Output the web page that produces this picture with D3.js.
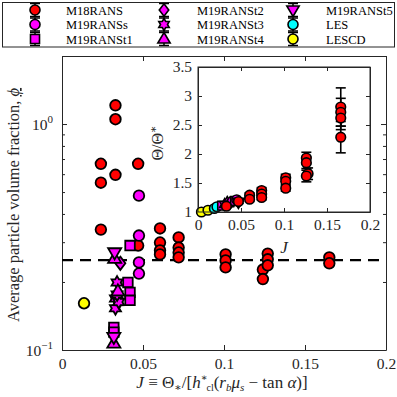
<!DOCTYPE html>
<html><head><meta charset="utf-8">
<script src="https://cdn.jsdelivr.net/npm/d3@7"></script>
<style>
html,body{margin:0;padding:0;background:#fff;}
svg{display:block;font-family:"Liberation Serif","DejaVu Serif",serif;}
</style></head>
<body><svg id="c" width="397" height="397"></svg>
<script>
// ---------- data ----------
const seriesNames = ["M18RANS","M19RANSs","M19RANSt1","M19RANSt2","M19RANSt3","M19RANSt4","M19RANSt5","LES","LESCD"];
const seriesShapes = ["circle","circle","square","diamond","hexagram","triUp","triDown","circle","circle"];
const seriesColors = ["#ff0000","#ff00ff","#ff00ff","#ff00ff","#ff00ff","#ff00ff","#ff00ff","#00ffff","#ffff00"];

// main panel: J and average volume fraction per series
const m18J   = [0.024,0.024,0.024,0.033,0.033,0.033,0.047,0.047,0.0605,0.0605,0.0605,0.0605,0.072,0.072,0.072,0.072,0.101,0.101,0.101,0.124,0.124,0.127,0.127,0.127,0.165,0.165];
const m18Phi = [0.667,0.55,0.341,1.21,1.05,0.596,0.667,0.29,0.345,0.299,0.276,0.265,0.315,0.284,0.270,0.257,0.265,0.249,0.232,0.227,0.206,0.267,0.252,0.237,0.257,0.242];
const sJ   = [0.0475,0.0475,0.0475,0.0475];
const sPhi = [0.482,0.321,0.244,0.218];
const t1J   = [0.042,0.0407,0.042,0.042,0.032,0.032];
const t1Phi = [0.290,0.199,0.180,0.166,0.126,0.120];
const t2J   = [0.036];
const t2Phi = [0.242];
const t3J   = [0.034,0.033,0.033,0.035,0.034];
const t3Phi = [0.199,0.169,0.153,0.163,0.176];
const t4J   = [0.0325,0.0345,0.032];
const t4Phi = [0.254,0.182,0.107];
const t5J   = [0.0325,0.032];
const t5Phi = [0.270,0.114];
const lesJ = [], lesPhi = [];
const lescdJ = [0.0136], lescdPhi = [0.161];
const dashedPhi = 0.25;

// inset: J, Theta/Theta*, error half-width
const inM18J  = [0.033,0.047,0.060,0.060,0.074,0.074,0.074,0.102,0.102,0.102,0.126,0.126,0.128,0.126,0.166,0.166,0.166,0.166];
const inM18T  = [1.10,1.18,1.29,1.22,1.37,1.31,1.25,1.59,1.53,1.41,1.93,1.85,1.66,1.62,2.81,2.72,2.62,2.29];
const inM18E  = [0.03,0.03,0.04,0.04,0.05,0.04,0.04,0.06,0.05,0.05,0.10,0.10,0.10,0.10,0.33,0.24,0.20,0.27];
const inM19J  = [0.028,0.031,0.034,0.037,0.040,0.043,0.045,0.047];
const inM19T  = [1.11,1.13,1.16,1.15,1.18,1.19,1.21,1.17];
const inM19E  = [0.02,0.02,0.02,0.02,0.03,0.03,0.03,0.02];
const inM19Shape = ["square","hexagram","triUp","diamond","circle","square","circle","triDown"];
const inLesJ = [0.019,0.022], inLesT = [1.06,1.09], inLesE = [0.02,0.02];
const inLescdJ = [0.004,0.0116], inLescdT = [1.0,1.03], inLescdE = [0.02,0.02];

const xTicks = [0,0.05,0.1,0.15,0.2];
const xTickLabels = ["0","0.05","0.1","0.15","0.2"];
const yMajor = [0.1,1];
const yMinor = [0.2,0.3,0.4,0.5,0.6,0.7,0.8,0.9,2];
const inYTicks = [1,1.5,2,2.5,3,3.5];
const inYTickLabels = ["1","1.5","2","2.5","3","3.5"];

// ---------- helpers ----------
function shapePath(type, r){
  const p = d3.path();
  if(type==="circle"){ p.arc(0,0,r,0,2*Math.PI); }
  else if(type==="square"){ const s=r*0.9; p.rect(-s,-s,2*s,2*s); }
  else if(type==="diamond"){ const a=r*1.25, b=r*0.95; p.moveTo(0,-a);p.lineTo(b,0);p.lineTo(0,a);p.lineTo(-b,0);p.closePath(); }
  else if(type==="triUp"||type==="triDown"){ const s=(type==="triUp")?1:-1; const a=r*1.3;
    p.moveTo(0,-a*s); p.lineTo(a*0.95,a*0.62*s); p.lineTo(-a*0.95,a*0.62*s); p.closePath(); }
  else if(type==="hexagram"){ const R=r*1.2, ri=R*0.58;
    for(let i=0;i<12;i++){ const ang=-Math.PI/2+i*Math.PI/6; const rr=(i%2===0)?R:ri;
      const X=rr*Math.cos(ang), Y=rr*Math.sin(ang); if(i===0)p.moveTo(X,Y); else p.lineTo(X,Y);} p.closePath(); }
  return p.toString();
}

const svg = d3.select("#c");

// ---------- main axes ----------
const x = d3.scaleLinear().domain([0,0.2]).range([62,386]);
const y = d3.scaleLog().domain([0.1,2]).range([350,56]);

const main = svg.append("g");
main.append("rect").attr("x",62).attr("y",56).attr("width",324).attr("height",294).attr("fill","#fff");

function styleAxis(g){ g.selectAll("path.domain").attr("stroke","#262626").attr("stroke-width",1);
  g.selectAll(".tick line").attr("stroke","#262626").attr("stroke-width",1);
  g.selectAll("text").attr("fill","#262626").attr("font-family","Liberation Serif, serif"); }

const axB = main.append("g").attr("transform","translate(0,350)")
  .call(d3.axisBottom(x).tickValues(xTicks).tickFormat((d,i)=>xTickLabels[i]).tickSizeInner(-5).tickSizeOuter(0).tickPadding(8));
axB.selectAll("text").attr("font-size",15.5);
styleAxis(axB);
const axT = main.append("g").attr("transform","translate(0,56)")
  .call(d3.axisTop(x).tickValues(xTicks).tickFormat("").tickSizeInner(-5).tickSizeOuter(0));
styleAxis(axT);
const axL = main.append("g").attr("transform","translate(62,0)")
  .call(d3.axisLeft(y).tickValues(yMajor).tickFormat("").tickSizeInner(-5).tickSizeOuter(0).tickPadding(9));
styleAxis(axL);
main.append("g").attr("transform","translate(62,0)")
  .call(d3.axisLeft(y).tickValues(yMinor).tickFormat("").tickSizeInner(-3).tickSizeOuter(0)).call(styleAxis)
  .select("path.domain").remove();
const axR = main.append("g").attr("transform","translate(386,0)")
  .call(d3.axisRight(y).tickValues(yMajor).tickFormat("").tickSizeInner(-5).tickSizeOuter(0));
styleAxis(axR);
main.append("g").attr("transform","translate(386,0)")
  .call(d3.axisRight(y).tickValues(yMinor).tickFormat("").tickSizeInner(-3).tickSizeOuter(0)).call(styleAxis)
  .select("path.domain").remove();

// y tick labels 10^0, 10^-1
yMajor.forEach(v=>{
  const e = Math.round(Math.log10(v));
  const t = main.append("text").attr("x",53).attr("y",y(v)+6).attr("text-anchor","end")
    .attr("font-size",15.5).attr("fill","#262626");
  t.append("tspan").text("10");
  t.append("tspan").attr("dy",-7).attr("font-size",11).text(e===0?"0":"\u22121");
});

// dashed line
main.append("line").attr("x1",x(0)).attr("x2",x(0.2)).attr("y1",y(dashedPhi)).attr("y2",y(dashedPhi))
  .attr("stroke","#000").attr("stroke-width",2.2).attr("stroke-dasharray","11,7");

// main markers
const mainSeries = [
  [m18J,m18Phi],[sJ,sPhi],[t1J,t1Phi],[t2J,t2Phi],[t3J,t3Phi],[t4J,t4Phi],[t5J,t5Phi],[lesJ,lesPhi],[lescdJ,lescdPhi]
];
mainSeries.forEach((s,k)=>{
  const pts = s[0].map((j,i)=>({j, v:s[1][i]}));
  main.append("g").selectAll("path").data(pts).join("path")
    .attr("transform",d=>`translate(${x(d.j)},${y(d.v)})`)
    .attr("d",shapePath(seriesShapes[k],5.3))
    .attr("fill",seriesColors[k]).attr("stroke","#000").attr("stroke-width",1.8);
});

// axis labels
const xl = svg.append("text").attr("x",222).attr("y",388).attr("text-anchor","middle").attr("font-size",17).attr("fill","#262626");
xl.append("tspan").attr("font-style","italic").text("J");
xl.append("tspan").text(" \u2261 \u0398");
xl.append("tspan").attr("font-size",11).attr("dy",3).text("\u2217");
xl.append("tspan").attr("dy",-3).text("/[");
xl.append("tspan").attr("font-style","italic").text("h");
xl.append("tspan").attr("font-size",10).attr("dy",-7).text("\u2217");
xl.append("tspan").attr("font-size",10).attr("dy",10).attr("dx",-1).text("cl");
xl.append("tspan").attr("dy",-3).text("(");
xl.append("tspan").attr("font-style","italic").text("r");
xl.append("tspan").attr("font-style","italic").attr("font-size",11).attr("dy",3).text("b");
xl.append("tspan").attr("font-style","italic").attr("dy",-3).text("\u03bc");
xl.append("tspan").attr("font-style","italic").attr("font-size",11).attr("dy",3).text("s");
xl.append("tspan").attr("dy",-3).text(" \u2212 tan ");
xl.append("tspan").attr("font-style","italic").text("\u03b1");
xl.append("tspan").text(")]");

const yl = svg.append("text").attr("transform","translate(19,205) rotate(-90)").attr("text-anchor","middle")
  .attr("font-size",16.5).attr("fill","#262626");
yl.append("tspan").text("Average particle volume fraction, ");
yl.append("tspan").attr("font-style","italic").attr("text-decoration","underline").text("\u03d5");

// ---------- inset ----------
const xi = d3.scaleLinear().domain([0,0.2]).range([198,370]);
const yi = d3.scaleLinear().domain([1,3.5]).range([212,67]);
const ins = svg.append("g");
ins.append("rect").attr("x",198).attr("y",67).attr("width",172).attr("height",145).attr("fill","#fff");
const iB = ins.append("g").attr("transform","translate(0,212)")
  .call(d3.axisBottom(xi).tickValues(xTicks).tickFormat((d,i)=>xTickLabels[i]).tickSizeInner(-4).tickSizeOuter(0).tickPadding(7));
iB.selectAll("text").attr("font-size",15.5); styleAxis(iB);
ins.append("g").attr("transform","translate(0,67)")
  .call(d3.axisTop(xi).tickValues(xTicks).tickFormat("").tickSizeInner(-4).tickSizeOuter(0)).call(styleAxis);
const iL = ins.append("g").attr("transform","translate(198,0)")
  .call(d3.axisLeft(yi).tickValues(inYTicks).tickFormat((d,i)=>inYTickLabels[i]).tickSizeInner(-4).tickSizeOuter(0).tickPadding(6));
iL.selectAll("text").attr("font-size",15.5); styleAxis(iL);
ins.append("g").attr("transform","translate(370,0)")
  .call(d3.axisRight(yi).tickValues(inYTicks).tickFormat("").tickSizeInner(-4).tickSizeOuter(0)).call(styleAxis);

function insetSeries(J,T,E,shapes,color){
  const pts = J.map((j,i)=>({j,t:T[i],e:E[i],s:Array.isArray(shapes)?shapes[i]:shapes}));
  const g = ins.append("g");
  g.selectAll("g.eb").data(pts).join("g").attr("class","eb").each(function(d){
    const gg = d3.select(this); const cx=xi(d.j);
    gg.append("line").attr("x1",cx).attr("x2",cx).attr("y1",yi(d.t-d.e)).attr("y2",yi(d.t+d.e)).attr("stroke","#000").attr("stroke-width",1.6);
    [d.t-d.e,d.t+d.e].forEach(v=>gg.append("line").attr("x1",cx-5).attr("x2",cx+5).attr("y1",yi(v)).attr("y2",yi(v)).attr("stroke","#000").attr("stroke-width",1.6));
  });
  g.selectAll("path").data(pts).join("path")
    .attr("transform",d=>`translate(${xi(d.j)},${yi(d.t)})`)
    .attr("d",d=>shapePath(d.s,4.8)).attr("fill",color).attr("stroke","#000").attr("stroke-width",1.6);
}
insetSeries(inLescdJ,inLescdT,inLescdE,"circle","#ffff00");
insetSeries(inLesJ,inLesT,inLesE,"circle","#00ffff");
insetSeries(inM19J,inM19T,inM19E,inM19Shape,"#ff00ff");
insetSeries(inM18J,inM18T,inM18E,"circle","#ff0000");
ins.append("rect").attr("x",198).attr("y",67).attr("width",172).attr("height",145).attr("fill","none").attr("stroke","#262626").attr("stroke-width",1);

svg.append("text").attr("x",284).attr("y",253).attr("text-anchor","middle").attr("font-size",17)
  .attr("font-style","italic").attr("fill","#262626").text("J");
const til = svg.append("text").attr("transform","translate(163,143) rotate(-90)").attr("text-anchor","middle")
  .attr("font-size",16).attr("fill","#262626");
til.append("tspan").text("\u0398/\u0398");
til.append("tspan").attr("font-size",11).attr("dy",-6).text("\u2217");

// ---------- legend ----------
const leg = svg.append("g");
leg.append("rect").attr("x",2.5).attr("y",2.5).attr("width",392).attr("height",44.5).attr("fill","#fff")
  .attr("stroke","#262626").attr("stroke-width",1);
const colMX=[35,164,293], colTX=[66,197,326], rowY=[10,24.5,39];
seriesNames.forEach((name,k)=>{
  const c=Math.floor(k/3), r=k%3;
  const mx=colMX[c], my=rowY[r];
  const gg = leg.append("g");
  gg.append("line").attr("x1",mx).attr("x2",mx).attr("y1",my-7).attr("y2",my+7).attr("stroke","#000").attr("stroke-width",1.5);
  [my-6.5,my+6.5].forEach(v=>gg.append("line").attr("x1",mx-5).attr("x2",mx+5).attr("y1",v).attr("y2",v).attr("stroke","#000").attr("stroke-width",1.5));
  gg.append("path").attr("transform",`translate(${mx},${my})`).attr("d",shapePath(seriesShapes[k],5))
    .attr("fill",seriesColors[k]).attr("stroke","#000").attr("stroke-width",1.6);
  leg.append("text").attr("x",colTX[c]).attr("y",my+4.5).attr("font-size",12.5).attr("fill","#000").text(name);
});
</script></body></html>
